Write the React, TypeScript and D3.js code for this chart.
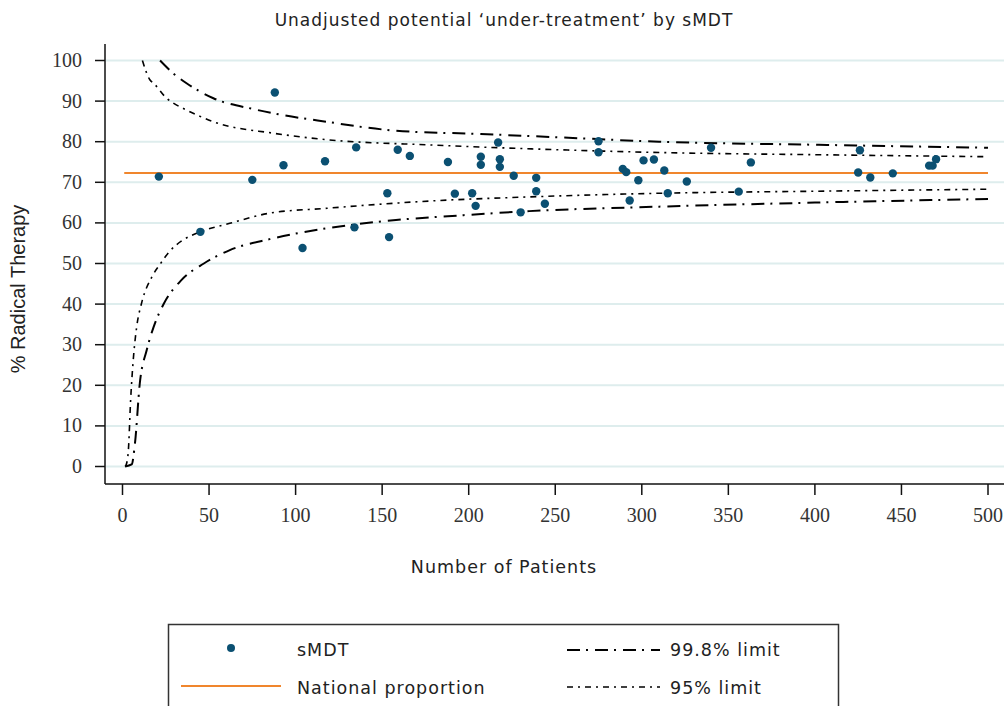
import * as d3 from "d3";

// sMDT points
const patients = [21, 45, 75, 88, 93, 104, 117, 134, 135, 153, 154, 159, 166, 188, 192, 202, 204, 207, 207, 217, 218, 218, 226, 230, 239, 239, 244, 275, 275, 289, 291, 293, 298, 301, 307, 313, 315, 326, 340, 356, 363, 425, 426, 432, 445, 466, 468, 470];
const radical = [71.4, 57.8, 70.6, 92.1, 74.2, 53.8, 75.2, 58.9, 78.6, 67.3, 56.5, 78.0, 76.5, 75.0, 67.2, 67.3, 64.2, 76.3, 74.3, 79.8, 75.7, 73.8, 71.6, 62.6, 71.1, 67.8, 64.7, 80.1, 77.4, 73.3, 72.5, 65.5, 70.5, 75.4, 75.6, 72.9, 67.3, 70.2, 78.5, 67.7, 74.9, 72.4, 77.9, 71.2, 72.2, 74.1, 74.1, 75.7];

const nationalProportion = 72.3;

// control limits
const upper998N = [21.7, 29.4, 37, 52.5, 76, 87, 118, 158, 207, 251, 310, 407, 500];
const upper998V = [100, 96.8, 94.4, 90.7, 88.0, 87.0, 84.9, 82.7, 81.9, 81.1, 80.0, 79.2, 78.5];
const upper95N = [11.5, 15.9, 18, 25.5, 29.4, 37, 52.5, 87, 118, 178, 253, 314, 400, 500];
const upper95V = [100, 95.2, 94.4, 90.7, 89.5, 87.8, 84.9, 82.1, 80.5, 79.2, 78.0, 77.3, 76.8, 76.3];
const lower95N = [1.5, 2.4, 3.4, 4.7, 6.2, 8.2, 11, 17, 22, 27, 35, 45, 62, 85, 118, 178, 235, 310, 400, 500];
const lower95V = [0, 0.8, 4, 16.4, 26.2, 34.4, 40.2, 46.7, 50, 52.9, 55.8, 57.8, 59.9, 62.4, 63.6, 65.4, 66.4, 67.3, 67.8, 68.3];
const lower998N = [1.5, 5.3, 7.2, 10, 14, 18, 24, 34, 47, 62, 85, 120, 158, 197, 235, 310, 400, 500];
const lower998V = [0, 0.5, 5.7, 20.5, 28.7, 34.4, 40.2, 45.9, 50, 53.3, 56, 58.8, 60.7, 61.9, 62.9, 64.0, 65.0, 65.9];

const xTicks = [0, 50, 100, 150, 200, 250, 300, 350, 400, 450, 500];
const yTicks = [0, 10, 20, 30, 40, 50, 60, 70, 80, 90, 100];

const dotColor = "#0b5072";
const orange = "#f0862d";
const grid = "#deeded";
const sans = "'DejaVu Sans', 'Open Sans', sans-serif";
const serif = "'Liberation Serif', 'DejaVu Serif', serif";

const dash998 = "13,6,2,7";
const dash95 = "6,5,2,5";

export default function App() {
  const x = d3.scaleLinear().domain([0, 500]).range([122.5, 988]);
  const y = d3.scaleLinear().domain([0, 100]).range([466.5, 60.5]);

  const line = (ns: number[], vs: number[]) =>
    d3
      .line<number>()
      .x((_, i) => x(ns[i]))
      .y((v) => y(v))
      .curve(d3.curveMonotoneX)(vs) || "";

  const label = { fontFamily: sans, fontSize: 17.5, fill: "#222", letterSpacing: 1.0 };

  return (
    <svg width={1004} height={706} style={{ position: "absolute", left: 0, top: 0, background: "#fff" }}>
      <text x={504} y={26} textAnchor="middle" fontFamily={sans} fontSize={17} fill="#222" letterSpacing={1.0}>
        Unadjusted potential ‘under-treatment’ by sMDT
      </text>

      {/* gridlines */}
      {yTicks.map((t) => (
        <line key={"g" + t} x1={106} x2={1004} y1={y(t)} y2={y(t)} stroke={grid} strokeWidth={2} />
      ))}

      {/* axes */}
      <line x1={105} x2={105} y1={44} y2={484} stroke="#111" strokeWidth={1.5} />
      <line x1={105} x2={1004} y1={484} y2={484} stroke="#111" strokeWidth={1.5} />
      {yTicks.map((t) => (
        <g key={"y" + t}>
          <line x1={95} x2={105} y1={y(t)} y2={y(t)} stroke="#111" strokeWidth={1.5} />
          <text x={82} y={y(t) + 6.5} textAnchor="end" fontFamily={serif} fontSize={20} fill="#333">
            {t}
          </text>
        </g>
      ))}
      {xTicks.map((t) => (
        <g key={"x" + t}>
          <line x1={x(t)} x2={x(t)} y1={484} y2={495} stroke="#111" strokeWidth={1.5} />
          <text x={x(t)} y={522} textAnchor="middle" fontFamily={serif} fontSize={20} fill="#333">
            {t}
          </text>
        </g>
      ))}

      <text
        transform={`translate(25,289) rotate(-90)`}
        textAnchor="middle"
        fontFamily="'Liberation Sans', Arial, sans-serif"
        fontSize={20}
        fill="#222"
      >
        % Radical Therapy
      </text>
      <text x={504} y={573} textAnchor="middle" {...label}>
        Number of Patients
      </text>

      {/* limits */}
      <path d={line(upper998N, upper998V)} fill="none" stroke="#000" strokeWidth={2} strokeDasharray={dash998} />
      <path d={line(lower998N, lower998V)} fill="none" stroke="#000" strokeWidth={2} strokeDasharray={dash998} />
      <path d={line(upper95N, upper95V)} fill="none" stroke="#000" strokeWidth={1.6} strokeDasharray={dash95} />
      <path d={line(lower95N, lower95V)} fill="none" stroke="#000" strokeWidth={1.6} strokeDasharray={dash95} />

      {/* national proportion */}
      <line x1={x(1)} x2={x(500)} y1={y(nationalProportion)} y2={y(nationalProportion)} stroke={orange} strokeWidth={2} />

      {patients.map((p, i) => (
        <circle key={i} cx={x(p)} cy={y(radical[i])} r={4.2} fill={dotColor} />
      ))}

      {/* legend */}
      <rect x={168.5} y={624.5} width={670} height={100} fill="#fff" stroke="#333" strokeWidth={1.5} />
      <circle cx={231} cy={648} r={4} fill={dotColor} />
      <text x={297} y={656} {...label}>sMDT</text>
      <line x1={181} x2={281} y1={686} y2={686} stroke={orange} strokeWidth={2} />
      <text x={297} y={694} {...label}>National proportion</text>
      <line x1={567} x2={660} y1={650} y2={650} stroke="#000" strokeWidth={2} strokeDasharray={dash998} />
      <text x={670} y={656} {...label}>99.8% limit</text>
      <line x1={567} x2={660} y1={687} y2={687} stroke="#000" strokeWidth={1.6} strokeDasharray={dash95} />
      <text x={670} y={694} {...label}>95% limit</text>
    </svg>
  );
}
